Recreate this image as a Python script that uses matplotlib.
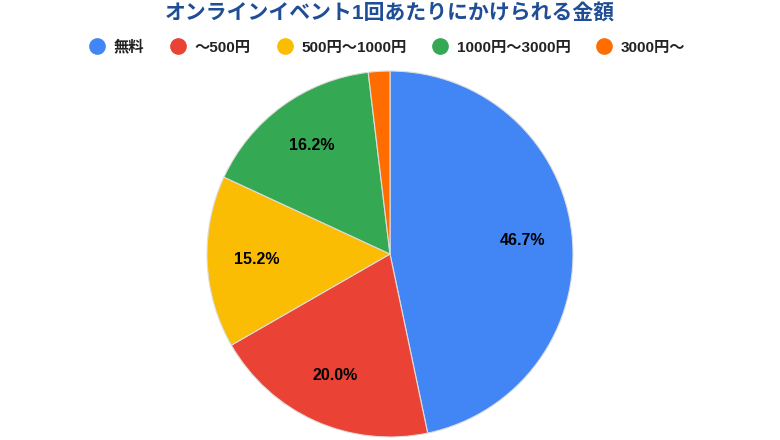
import matplotlib.pyplot as plt
from matplotlib.lines import Line2D

plt.rcParams['font.family'] = ['Liberation Sans', 'Noto Sans CJK JP', 'DejaVu Sans']

# データ
labels = ['無料', '〜500円', '500円〜1000円', '1000円〜3000円', '3000円〜']
values = [46.7, 20.0, 15.2, 16.2, 1.9]
colors = ['#4285F4', '#EA4335', '#FBBC04', '#34A853', '#FF6D01']

fig = plt.figure(figsize=(7.8, 4.4), dpi=100)
ax = fig.add_axes([0.5 - 0.2346, 0.4227 - 0.4159, 0.4692, 0.8318])


def fmt(p):
    return f'{p:.1f}%' if p > 5 else ''


wedges, texts, autotexts = ax.pie(
    values, colors=colors, startangle=90, counterclock=False,
    autopct=fmt, pctdistance=0.73,
    wedgeprops=dict(edgecolor='#dddddd', linewidth=0.8),
    textprops=dict(fontsize=11.5, fontweight='bold', color='black'))
ax.set_xlim(-1, 1)
ax.set_ylim(-1, 1)
ax.set_aspect('equal')

fig.text(0.5, 0.968, 'オンラインイベント1回あたりにかけられる金額', ha='center', va='center',
         fontsize=15, fontweight='bold', color='#1F4E96')

handles = [Line2D([], [], marker='o', linestyle='', markersize=11,
                  markerfacecolor=c, markeredgecolor=c) for c in colors]
fig.legend(handles, labels, loc='center', bbox_to_anchor=(0.494, 0.893), ncol=5,
           frameon=False, handletextpad=0.3, columnspacing=1.4, handlelength=1.6,
           prop=dict(size=11, weight='bold'), labelcolor='#222222')

fig.savefig('out.png', dpi=100)
